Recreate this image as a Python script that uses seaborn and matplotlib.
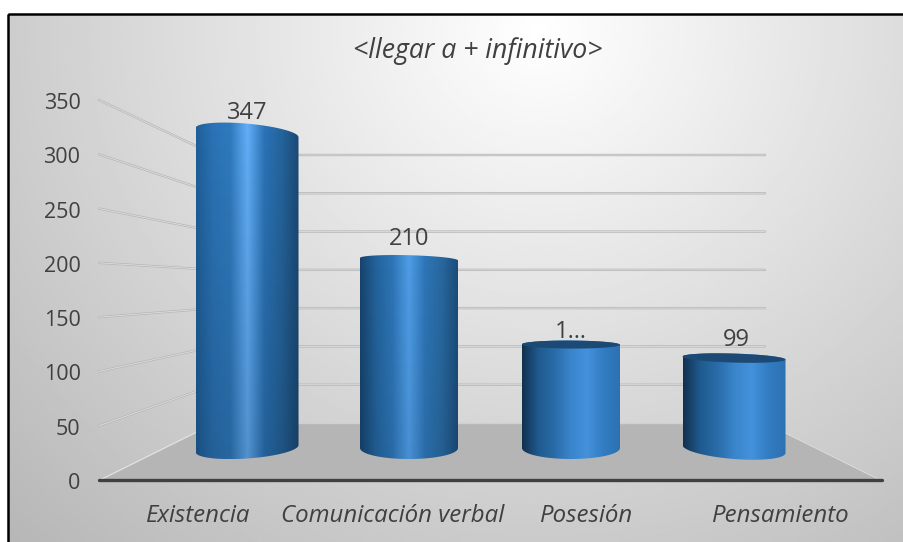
import numpy as np
import pandas as pd
import matplotlib
matplotlib.use("Agg")
import matplotlib.pyplot as plt
from matplotlib.path import Path
from matplotlib.patches import PathPatch, Polygon
from matplotlib.colors import LinearSegmentedColormap
from matplotlib.transforms import ScaledTranslation
import seaborn as sns

categories = ["Existencia", "Comunicación verbal", "Posesión", "Pensamiento"]
values = [347, 210, 115, 99]
value_labels = ["347", "210", "1…", "99"]
y_ticks = [0, 50, 100, 150, 200, 250, 300, 350]
title = "<llegar a + infinitivo>"

sns.set_theme(style="white")
plt.rcParams["font.family"] = ["Open Sans", "DejaVu Sans"]

W, H = 904, 542
TEXT = "#404040"
fig = plt.figure(figsize=(W / 100, H / 100), dpi=100)
fig.patch.set_facecolor("white")


def px_axes(left, top, right, bottom):
    return fig.add_axes([left / W, 1 - bottom / H, (right - left) / W, (bottom - top) / H])


# background panel and 3d floor, in pixel coordinates
bg = px_axes(0, 0, W, H)
bg.set_xlim(0, W)
bg.set_ylim(H, 0)
bg.axis("off")
xx, yy = np.meshgrid(np.linspace(0, W, 300), np.linspace(0, H, 200))
dist = np.hypot((xx - 540) / 700, (yy - 30) / 650)
shade = 1.0 - 0.26 * dist
panel = bg.imshow(shade, extent=(0, W, H, 0), cmap="gray", vmin=0, vmax=1, aspect="auto", zorder=0)
frame = bg.add_patch(plt.Rectangle((8, 14), 920, 560, fc="none", ec="black", lw=1.8, zorder=1))
panel.set_clip_path(frame)

front_y = lambda v: 480 - v * 380 / 350
back_y = lambda v: 423 - v * 268 / 350
bg.add_patch(Polygon([(100, 480), (215, 423), (765, 423), (880, 480)], fc="#b5b5b5", ec="none", zorder=2))
for v in y_ticks[1:]:
    bg.plot([99, 215, 765], [front_y(v), back_y(v), back_y(v)], color="#b8b8b8", lw=1.7, zorder=2)
    bg.plot([99, 215, 765], [front_y(v), back_y(v), back_y(v)], color="#dedede", lw=0.6, zorder=2)
bg.plot([100, 215], [480, 423], color="#e2e2e2", lw=0.9, zorder=2)
bg.plot([215, 765], [423, 423], color="#d0d0d0", lw=1, zorder=2)
bg.plot([765, 880], [423, 480], color="#dcdcdc", lw=0.7, zorder=2)
bg.plot([99, 882], [480, 480], color="#404040", lw=2.4, solid_capstyle="round", zorder=6)

# front edge of the left wall carries the value scale
scale = px_axes(100, 101, 880, 481)
scale.patch.set_alpha(0)
scale.set_ylim(0, 350)
scale.set_yticks(y_ticks)
scale.set_xticks([])
scale.tick_params(axis="y", length=0, pad=14, labelsize=15.5, labelcolor=TEXT)
sns.despine(ax=scale, left=True, bottom=True)

# bars: 0 sits at y=447 px and one unit is 0.893 px, room left under 0 for the base curve
PX_PER_UNIT = 0.893
Y_MIN, Y_MAX = -40, 400
ax = px_axes(166, 447 - Y_MAX * PX_PER_UNIT, 814, 447 - Y_MIN * PX_PER_UNIT)
ax.patch.set_alpha(0)
df = pd.DataFrame({"categoria": categories, "valor": values})
sns.barplot(data=df, x="categoria", y="valor", ax=ax, color="#2e75b6", width=0.62, saturation=1)
ax.set_xlabel("")
ax.set_ylabel("")
ax.set_yticks([])
ax.set_xticks([])
sns.despine(ax=ax, left=True, bottom=True)

cmap_first = LinearSegmentedColormap.from_list("c1", ["#1f5f98", "#2b73b6", "#2f7abd", "#62aef7", "#2b73b6", "#25649c", "#1b4a76"])
cmap_second = LinearSegmentedColormap.from_list("c2", ["#17436c", "#23639c", "#2e75b6", "#4f9de6", "#2e75b6", "#28689f", "#1c4d7a"])
cmap_right = LinearSegmentedColormap.from_list("c3", ["#12304f", "#1f5a8e", "#2a6ca8", "#3a85cc", "#4492dc", "#327cc2", "#2c72b2"])
bar_cmaps = [cmap_first, cmap_second, cmap_right, cmap_right]

# px tweaks per bar: width, top-left/right offsets, cap sagitta, base corners
bar_w = [103, 98, 98, 103]
top_off = [(-9, 0), (-1.5, 1), (0, 0.5), (-2, 1)]
top_sag = [9, 4, 4, 4.5]
base_px = [(452, 445), (448, 448), (448, 448), (445, 453)]
base_sag = [10, 11, 11, 10]
shift = [0, 0, 0, 1]
label_off = [6, 2, -6, 1]
fade = [0.16, 0.08, 0, 0]


def cap(xl, xr, yl, yr, sag, n=40):
    t = np.linspace(0, np.pi, n)
    xs = (xl + xr) / 2 - (xr - xl) / 2 * np.cos(t)
    ys = (yl + yr) / 2 - (yr - yl) / 2 * np.cos(t) + sag * np.sin(t)
    return xs, ys


to_val = lambda py: (447 - py) / PX_PER_UNIT
bars = list(ax.patches)
ax.set_xlim(-0.5, 3.5)
ax.set_ylim(Y_MIN, Y_MAX)
for i, bar in enumerate(bars):
    bar.set_alpha(0)
    cx = bar.get_x() + bar.get_width() / 2
    half = bar_w[i] / 2 / 162
    xl, xr = cx - half + shift[i] / 162, cx + half + shift[i] / 162
    h = bar.get_height()
    tl = h - top_off[i][0] / PX_PER_UNIT
    tr = h - top_off[i][1] / PX_PER_UNIT
    bl, br = to_val(base_px[i][0]), to_val(base_px[i][1])
    tx, ty = cap(xl, xr, tl, tr, top_sag[i] / PX_PER_UNIT)
    fx, fy = cap(xl, xr, bl, br, -base_sag[i] / PX_PER_UNIT)
    verts = np.r_[np.c_[tx, ty], np.c_[fx[::-1], fy[::-1]], [[tx[0], ty[0]]]]
    clip = PathPatch(Path(verts), transform=ax.transData, fc="none", ec="none")
    ax.add_patch(clip)
    grad = np.linspace(0, 1, 256)[None, :]
    extent = (xl, xr, fy.min(), ty.max())
    img = ax.imshow(grad, extent=extent, cmap=bar_cmaps[i], aspect="auto", zorder=3)
    img.set_clip_path(clip)
    if fade[i] > 0:
        # the taller bars get a little darker towards the floor
        veil = np.zeros((64, 1, 4))
        veil[:, 0, 3] = np.linspace(0, fade[i], 64)
        dark = ax.imshow(veil, extent=extent, aspect="auto", zorder=3.1)
        dark.set_clip_path(clip)
    if i >= 2:
        # top face is visible on the right-hand bars
        lx, ly = cap(xl, xr, tl, tr, -top_sag[i] / PX_PER_UNIT)
        lid = np.r_[np.c_[tx, ty], np.c_[lx[::-1], ly[::-1]]]
        ax.add_patch(Polygon(lid, fc="#1c4a75", ec="none", zorder=4))
    ax.text(cx + (3 if i == 3 else 0) / 162, h, value_labels[i], ha="center", va="bottom",
            fontsize=17, color=TEXT, zorder=5, clip_on=False,
            transform=ax.transData + ScaledTranslation(0, (6 + label_off[i]) / 100, fig.dpi_scale_trans))
ax.set_xlim(-0.5, 3.5)
ax.set_ylim(Y_MIN, Y_MAX)

# category labels and title
label_x = [198, 393, 587, 781]
for c, x in zip(categories, label_x):
    bg.text(x, 516, c, ha="center", va="center", style="italic", fontsize=17.3, color=TEXT, zorder=7)
bg.text(478, 51, title, ha="center", va="center", style="italic", fontsize=19.2, color=TEXT, zorder=7)

fig.savefig("out.png", dpi=100)
